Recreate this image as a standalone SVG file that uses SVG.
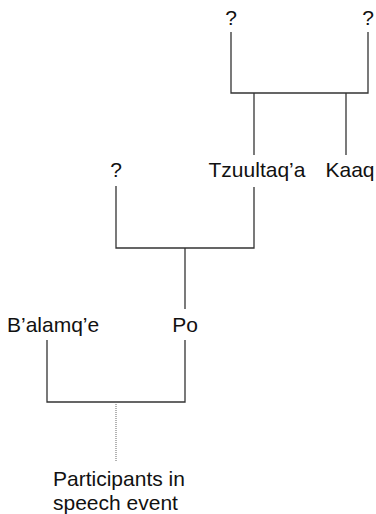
<svg xmlns="http://www.w3.org/2000/svg" width="376" height="514" viewBox="0 0 376 514">
  <style>
    .lbl { font-family: "Liberation Sans", Arial, Helvetica, sans-serif; font-size: 21px; fill: #111; }
    .mid { text-anchor: middle; }
    .ln { stroke: #333; stroke-width: 1.3; fill: none; stroke-linecap: butt; }
    .dot { stroke: #666; stroke-width: 1; fill: none; stroke-dasharray: 1 1; }
  </style>
  <rect width="376" height="514" fill="#fff"/>

  <!-- nodes -->
  <g id="unknown-top-left"><text class="lbl mid" x="231" y="25">?</text></g>
  <g id="unknown-top-right"><text class="lbl mid" x="368" y="25">?</text></g>
  <g id="unknown-mid"><text class="lbl mid" x="116" y="177">?</text></g>
  <g id="tzuultaqa"><text class="lbl mid" x="257" y="177">Tzuultaq’a</text></g>
  <g id="kaaq"><text class="lbl mid" x="350" y="177">Kaaq</text></g>
  <g id="balamqe"><text class="lbl" x="7" y="332">B’alamq’e</text></g>
  <g id="po"><text class="lbl mid" x="185" y="332">Po</text></g>
  <g id="participants">
    <text class="lbl" x="53" y="486">Participants in</text>
    <text class="lbl" x="53" y="510">speech event</text>
  </g>

  <!-- connectors -->
  <g id="connectors">
    <!-- top bracket -->
    <path class="ln" d="M231 32 V93 H368 V32"/>
    <path class="ln" d="M254 93 V155"/>
    <path class="ln" d="M346 93 V155"/>
    <!-- middle bracket -->
    <path class="ln" d="M116 186 V248 H254 V187"/>
    <path class="ln" d="M185 248 V309"/>
    <!-- bottom bracket -->
    <path class="ln" d="M47 340 V402 H185 V340"/>
    <path class="dot" d="M116 402 V461"/>
  </g>
</svg>
